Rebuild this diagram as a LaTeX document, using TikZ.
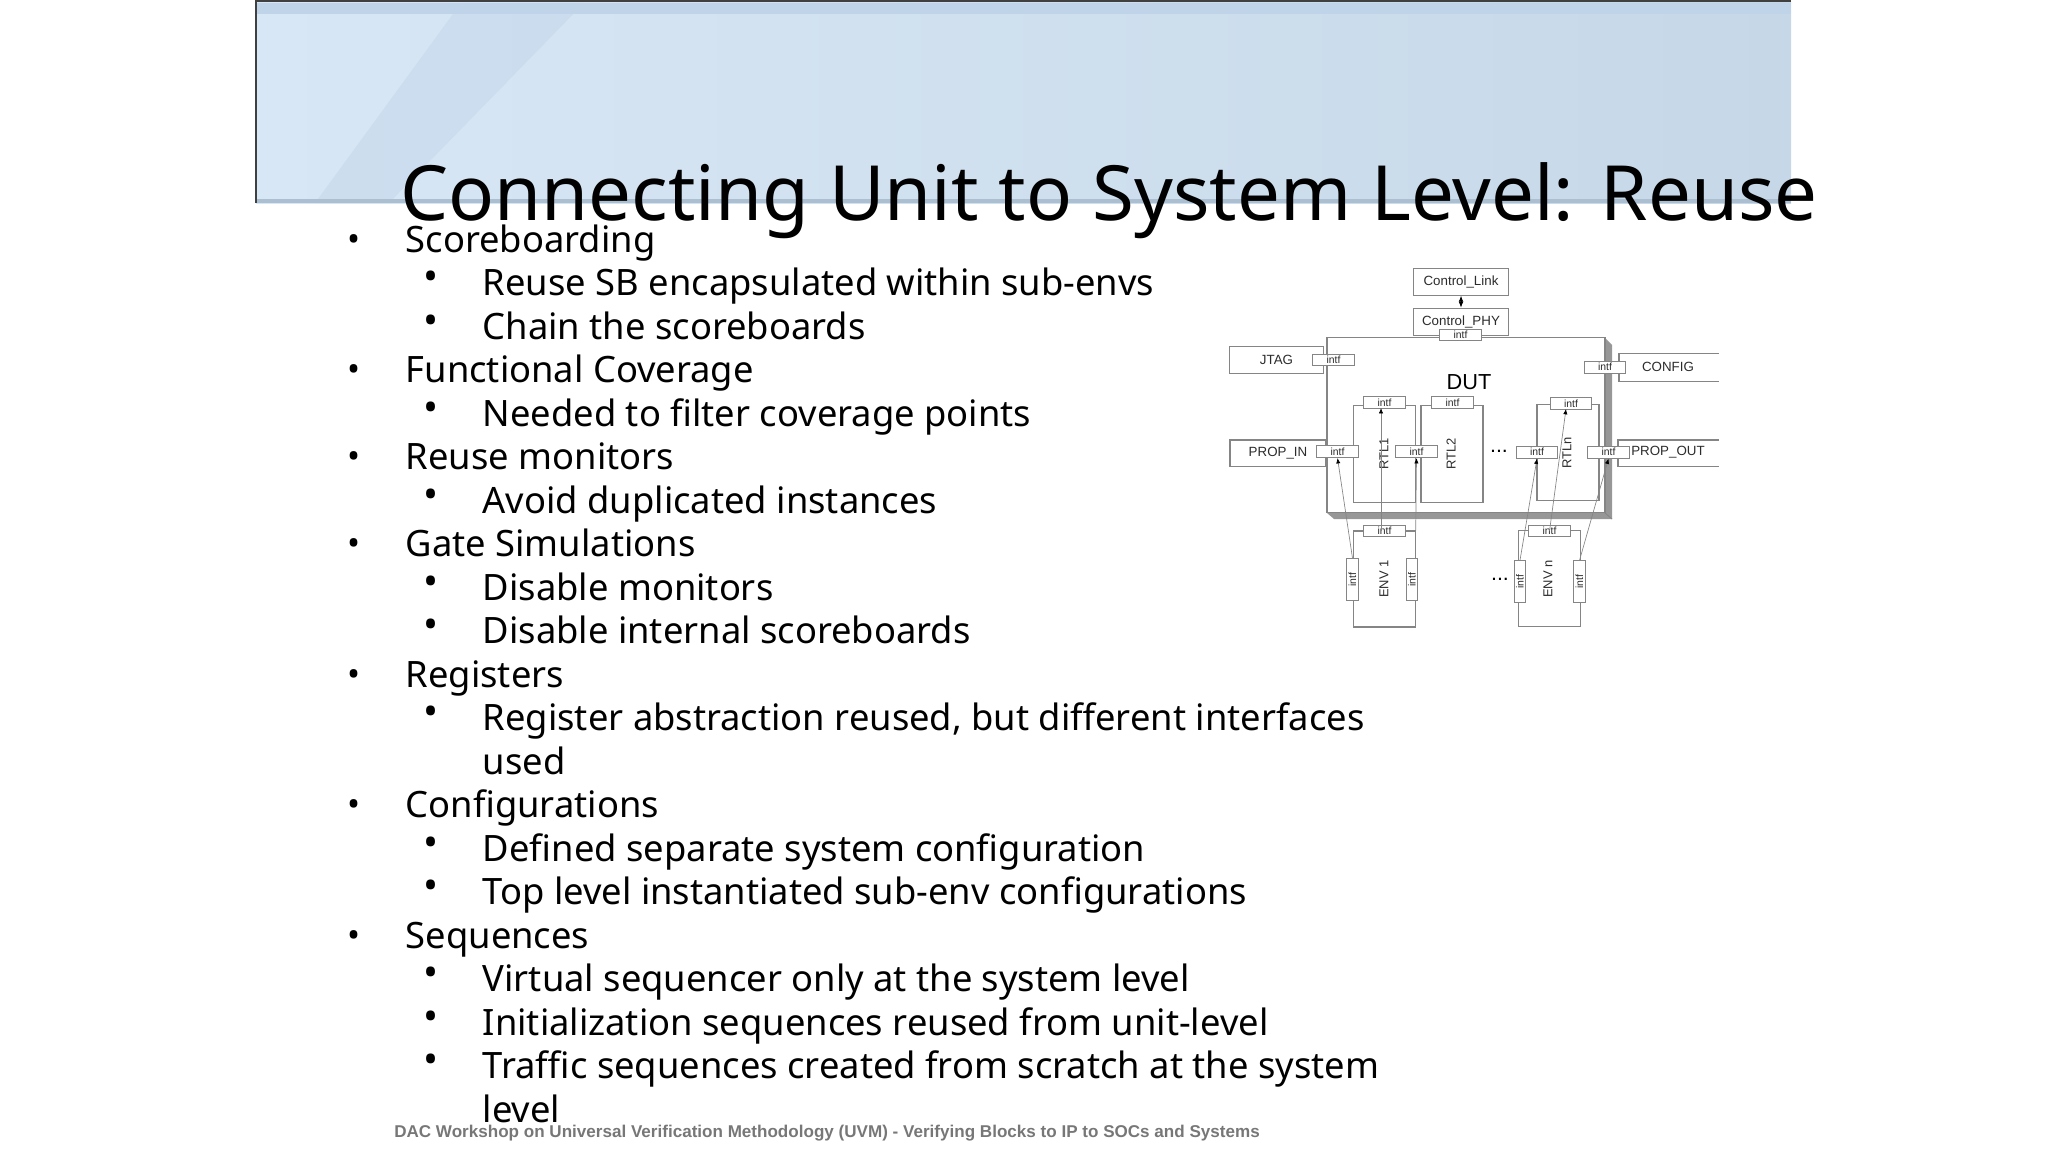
\documentclass[tikz,border=0pt]{standalone}
\usepackage{fontspec}
\setmainfont{Noto Sans}
\setsansfont{Liberation Sans}
\usetikzlibrary{positioning,arrows.meta}

\definecolor{wire}{HTML}{858585}
\definecolor{wiretext}{HTML}{2C2C2C}
\definecolor{bannerL}{HTML}{D8E7F5}
\definecolor{bannerM}{HTML}{DAE8F3}
\definecolor{bannerR}{HTML}{C6D8E8}
\definecolor{bannerB}{HTML}{BFD4E8}
\definecolor{footgray}{HTML}{777777}

\begin{document}
\begin{tikzpicture}[x=0.75pt, y=-0.75pt,
	box/.style = { rectangle, draw=wire, line width=0.8pt, fill=white,
	inner sep=0pt, text=wiretext, font=\sffamily\fontsize{10}{12}\selectfont },
	intf/.style = { box, minimum width=31pt, minimum height=8.8pt,
	font=\sffamily\fontsize{7.8}{9}\selectfont },
	vintf/.style = { intf, rotate=90 },
	rtl/.style = { rectangle, draw=wire, line width=0.8pt, inner sep=0pt },
	side/.style = { text=wiretext, rotate=90, font=\sffamily\fontsize{9.7}{12}\selectfont },
	link/.style = { draw=wire, line width=0.5pt, -{Latex[length=4pt,width=3.2pt,black]} },
	lvlone/.style = { anchor=base west, inner sep=0pt, font=\fontsize{27.25}{30}\selectfont },
	lvltwo/.style = { lvlone },
	dotone/.style = { anchor=center, inner sep=0pt, font=\fontsize{26}{30}\selectfont },
	dottwo/.style = { anchor=center, inner sep=0pt, font=\fontsize{30}{36}\selectfont } ]

  \useasboundingbox (0,0) rectangle (2048,1152);

  % banner
  \shade [left color=bannerL, middle color=bannerM, right color=bannerR] (256,2) rectangle (1791,203);
  \fill [bannerB, opacity=0.45] (584,3) -- (461,3) -- (315,203) -- (389,203) -- cycle;
  \fill [bannerB] (256,3) rectangle (1791,14);
  \fill [bannerB!90!black] (256,199) rectangle (1791,203);
  \draw [black!75, line width=1pt] (256,203) -- (256,1) -- (1791,1);

  \node [name=title, anchor=base west, inner sep=0pt,
	font=\fontsize{57.15}{66}\selectfont] at (400,220)
	{Connecting Unit to System Level: Reuse};

  % list on the left
  \foreach \row/\txt in {0/Scoreboarding, 3/Functional Coverage, 5/Reuse monitors,
	7/Gate Simulations, 10/Registers, 13/Configurations, 16/Sequences} {
    \node [name=one\row, lvlone] at (405.5,252.3+43.5*\row) {\txt};
    \node [name=dotone\row, dotone] at (354,252.3+43.5*\row-9.7) {•};
  }
  \foreach \row/\txt in {1/Reuse SB encapsulated within sub-envs, 2/Chain the scoreboards,
	4/Needed to filter coverage points, 6/Avoid duplicated instances,
	8/Disable monitors, 9/Disable internal scoreboards,
	11/Register abstraction reused{,} but different interfaces,
	14/Defined separate system configuration,
	15/Top level instantiated sub-env configurations,
	17/Virtual sequencer only at the system level,
	18/Initialization sequences reused from unit-level,
	19/Traffic sequences created from scratch at the system} {
    \node [name=two\row, lvltwo] at (482.5,252.3+43.5*\row) {\txt};
    \node [name=dottwo\row, dottwo] at (431,252.3+43.5*\row-14.6) {•};
  }
  \node [name=two12, lvltwo] at (482.5,774.3) {used};
  \node [name=two20, lvltwo] at (482.5,1122.3) {level};

  \node [name=foot, anchor=base west, inner sep=0pt, text=footgray,
	font=\sffamily\bfseries\fontsize{12.8}{16}\selectfont] at (394,1137)
	{DAC Workshop on Universal Verification Methodology (UVM) - Verifying Blocks to IP to SOCs and Systems};

  % shadow of the DUT, then the DUT
  \fill [wire!85] (1605,338) -- (1612,345) -- (1612,519) -- (1334,519) -- (1327,513)
	-- (1605,513) -- cycle;
  \draw [wire, line width=0.6pt] (1605,513) -- (1612,519);
  \node [name=dut, rtl, fill=white, minimum width=208.5pt, minimum height=131.25pt]
	at (1466,425.2) {};
  \node [name=duttext, text=black, font=\sffamily\fontsize{16.3}{18}\selectfont]
	at (1469,381.7) {DUT};

  \node [name=ctllink, box, minimum width=71pt, minimum height=19.75pt] at (1461,282) {Control\_Link};
  \node [name=ctlphy, box, minimum width=71pt, minimum height=20.2pt] at (1461,321.7) {Control\_PHY};
  \node [name=jtag, box, minimum width=71pt, minimum height=20pt] at (1276.5,360) {JTAG};
  \node [name=propin, box, minimum width=72pt, minimum height=20pt] at (1278,453.3) {PROP\_IN};

  % these two are open on the right
  \node [name=config, text=wiretext, font=\sffamily\fontsize{10}{12}\selectfont] at (1668,366.7) {CONFIG};
  \draw [wire, line width=0.8pt] (1719,353.3) -- (1619,353.3) -- (1619,381.3) -- (1719,381.3);
  \node [name=propout, text=wiretext, font=\sffamily\fontsize{10}{12}\selectfont] at (1668,452.5) {PROP\_OUT};
  \draw [wire, line width=0.8pt] (1719,440) -- (1618,440) -- (1618,466.7) -- (1719,466.7);

  \node [name=rtl1, rtl, minimum width=46pt, minimum height=73pt] at (1384.5,454) {};
  \node [name=rtl2, rtl, minimum width=46.5pt, minimum height=73pt] at (1452,454) {};
  \node [name=rtln, rtl, minimum width=46.5pt, minimum height=72.3pt] at (1568,452.5) {};
  \node [name=rtl1text, side] at (1384,454) {RTL1};
  \node [name=rtl2text, side] at (1451,454) {RTL2};
  \node [name=rtlntext, side] at (1567,453) {RTLn};
  \node [name=rtldots, text=black, font=\sffamily\fontsize{16}{16}\selectfont] at (1499,451) {...};

  \node [name=env1, rtl, minimum width=46pt, minimum height=72pt] at (1384.5,579) {};
  \node [name=envn, rtl, minimum width=46pt, minimum height=72.5pt] at (1549.5,578.5) {};
  \node [name=env1text, side] at (1384,579) {ENV 1};
  \node [name=envntext, side] at (1548,579) {ENV n};
  \node [name=envdots, text=black, font=\sffamily\fontsize{16}{16}\selectfont] at (1500,579) {...};

  % interfaces
  \node [name=iphy, intf] at (1460.5,335) {intf};
  \node [name=ijtag, intf] at (1333.5,360) {intf};
  \node [name=iconfig, intf] at (1605,367.2) {intf};
  \node [name=ipropin, intf] at (1337.5,451.7) {intf};
  \node [name=irtl1top, intf] at (1384.5,402.7) {intf};
  \node [name=irtl1, intf] at (1416.5,451.7) {intf};
  \node [name=irtl2top, intf] at (1452.5,402.7) {intf};
  \node [name=irtlntop, intf] at (1571,403.7) {intf};
  \node [name=irtln, intf] at (1537,452.2) {intf};
  \node [name=ipropout, intf] at (1608.5,452.2) {intf};
  \node [name=ienv1top, intf] at (1384.5,531) {intf};
  \node [name=ienv1l, vintf] at (1352.5,579.5) {intf};
  \node [name=ienv1r, vintf] at (1412,579.5) {intf};
  \node [name=ienvntop, intf] at (1549.5,531) {intf};
  \node [name=ienvnl, vintf] at (1520,581.5) {intf};
  \node [name=ienvnr, vintf] at (1579.5,581.5) {intf};

  \coordinate (tipl1) at (1381,408);
  \coordinate (tailenv1) at (1381,531);
  \coordinate (tipln) at (1566,409);

  % connectors
  \draw [link] (ienv1l.east) -- (ipropin.south);
  \draw [link] (tailenv1) -- (tipl1);
  \draw [link] (env1.north east) -- (irtl1.south);
  \draw [link] (ienvnl.east) -- (irtln.south);
  \draw [link] (ienvntop.center) -- (tipln);
  \draw [link] (ienvnr.east) -- (ipropout.south);
  \draw [draw=black, line width=0.6pt, {Latex[length=4.5pt,width=3.5pt]}-{Latex[length=4.5pt,width=3.5pt]}]
	(ctllink) -- (ctlphy);
\end{tikzpicture}
\end{document}
